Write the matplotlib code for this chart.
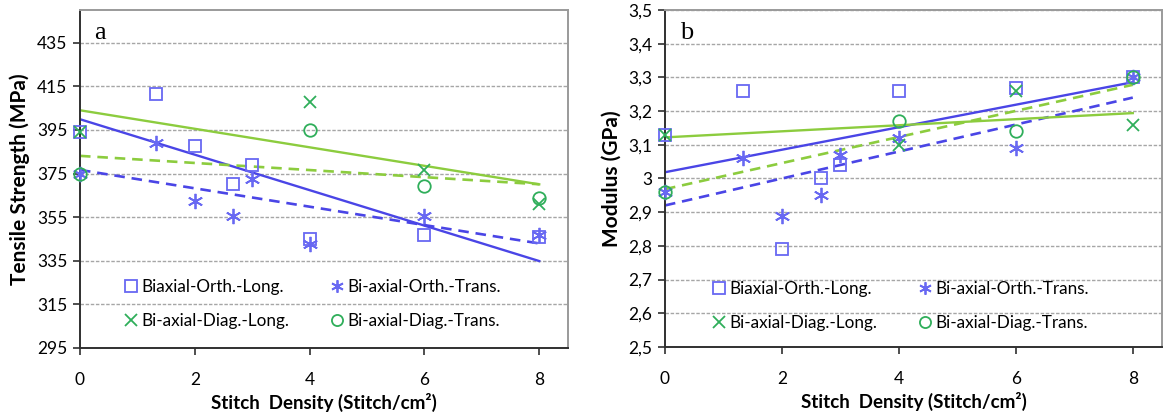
import numpy as np
import matplotlib
matplotlib.use('Agg')
from matplotlib import pyplot as plt
from matplotlib.lines import Line2D

plt.rcParams['font.family'] = ['Lato', 'DejaVu Sans']

# stitch density (stitch/cm2)
x_orth = [0, 1.33, 2, 2.67, 3, 4, 6, 8]
x_diag = [0, 4, 6, 8]

# (a) tensile strength, MPa
ts_orth_long = [394, 411.6, 387.4, 370, 378.7, 345, 347, 346]
ts_orth_trans = [375, 388.9, 362.2, 355.5, 372.6, 342.7, 355.5, 347]
ts_diag_long = [394, 408, 376.6, 361]
ts_diag_trans = [375, 394.8, 369.3, 364]

# (b) modulus, GPa
mod_orth_long = [3.13, 3.26, 2.79, 3.00, 3.04, 3.26, 3.27, 3.30]
mod_orth_trans = [2.96, 3.06, 2.89, 2.95, 3.07, 3.12, 3.09, 3.30]
mod_diag_long = [3.13, 3.10, 3.26, 3.16]
mod_diag_trans = [2.96, 3.17, 3.14, 3.30]

series_names = ['Biaxial-Orth.-Long.', 'Bi-axial-Orth.-Trans.',
                'Bi-axial-Diag.-Long.', 'Bi-axial-Diag.-Trans.']
x_ticks = [0, 2, 4, 6, 8]
ts_ticks = [295, 315, 335, 355, 375, 395, 415, 435]
mod_ticks = [2.5, 2.6, 2.7, 2.8, 2.9, 3.0, 3.1, 3.2, 3.3, 3.4, 3.5]
mod_ticklabels = ['2,5', '2,6', '2,7', '2,8', '2,9', '3', '3,1', '3,2', '3,3', '3,4', '3,5']

BLUE_M = '#6868f2'
BLUE_L = '#4a45e6'
GREEN_M = '#2fae5a'
GREEN_L = '#8ccc3e'

ASTERISK = (6, 2, 0)


def trend(ax, x, y, color, ls):
    # excel-style linear trendline
    k, b = np.polyfit(x, y, 1)
    xs = np.array([0, 8])
    if ls == 'solid':
        ax.plot(xs, k * xs + b, color=color, lw=1.7, zorder=2)
    else:
        ax.plot(xs, k * xs + b, color=color, lw=1.9, ls=(0, (4, 2.6)), zorder=2)


def panel(ax, ol, ot, dl, dt, ticks, ticklabels, ylim, ylabel, letter, leg_x, leg_y):
    ax.set_xlim(0, 8.5)
    ax.set_ylim(*ylim)

    ax.plot(x_orth, ol, ls='none', marker='s', ms=9, mfc='none', mec=BLUE_M, mew=1.3, clip_on=False, zorder=3)
    ax.plot(x_orth, ot, ls='none', marker=ASTERISK, ms=11, mec=BLUE_M, mew=1.3, clip_on=False, zorder=3)
    ax.plot(x_diag, dl, ls='none', marker='x', ms=9, mec=GREEN_M, mew=1.3, clip_on=False, zorder=3)
    ax.plot(x_diag, dt, ls='none', marker='o', ms=9, mfc='none', mec=GREEN_M, mew=1.3, clip_on=False, zorder=3)

    trend(ax, x_orth, ol, BLUE_L, 'solid')
    trend(ax, x_orth, ot, BLUE_L, 'dashed')
    trend(ax, x_diag, dl, GREEN_L, 'solid')
    trend(ax, x_diag, dt, GREEN_L, 'dashed')

    ax.set_yticks(ticks)
    ax.set_yticklabels(ticklabels)
    ax.set_xticks(x_ticks)
    ax.yaxis.grid(True, color='#a6a6a6', lw=1.0, ls=(0, (2.5, 1.2)))
    ax.set_axisbelow(True)

    for s in ['left', 'bottom']:
        ax.spines[s].set_color('#303030')
        ax.spines[s].set_linewidth(1.4)
    for s in ['top', 'right']:
        ax.spines[s].set_color('#9a9a9a')
        ax.spines[s].set_linewidth(1.4)
    ax.tick_params(axis='both', labelsize=12.5, length=5, width=1.2, color='#303030')
    ax.tick_params(axis='x', pad=12)
    ax.tick_params(axis='y', pad=4)

    ax.set_xlabel('Stitch  Density (Stitch/cm²)', fontsize=13.5, fontweight='bold', labelpad=4)
    ax.set_ylabel(ylabel, fontsize=15, fontweight='bold', labelpad=5)

    ax.text(0.03, 0.965, letter, transform=ax.transAxes, fontsize=19,
            family=['Liberation Serif', 'DejaVu Serif'], va='top', ha='left')

    handles = [
        Line2D([], [], ls='none', marker='s', ms=8, mfc='none', mec=BLUE_M, mew=1.3),
        Line2D([], [], ls='none', marker='x', ms=8, mec=GREEN_M, mew=1.3),
        Line2D([], [], ls='none', marker=ASTERISK, ms=9, mec=BLUE_M, mew=1.3),
        Line2D([], [], ls='none', marker='o', ms=8, mfc='none', mec=GREEN_M, mew=1.3),
    ]
    labels = [series_names[0], series_names[2], series_names[1], series_names[3]]
    ax.legend(handles, labels, ncol=2, frameon=False, fontsize=12.3,
              loc='center left', bbox_to_anchor=(leg_x, leg_y),
              handlelength=0.6, handletextpad=0.3, columnspacing=2.5,
              labelspacing=1.05, borderaxespad=0)


fig = plt.figure(figsize=(11.64, 4.17), dpi=100)
ax_a = fig.add_axes([0.0687, 0.1655, 0.4192, 0.8106])
ax_b = fig.add_axes([0.5713, 0.1680, 0.4270, 0.8080])

panel(ax_a, ts_orth_long, ts_orth_trans, ts_diag_long, ts_diag_trans,
      ts_ticks, [str(t) for t in ts_ticks], (295, 450),
      'Tensile Strength (MPa)', 'a', 0.081, 0.130)
panel(ax_b, mod_orth_long, mod_orth_trans, mod_diag_long, mod_diag_trans,
      mod_ticks, mod_ticklabels, (2.5, 3.5),
      'Modulus (GPa)', 'b', 0.084, 0.121)

fig.savefig('out.png', dpi=100)
